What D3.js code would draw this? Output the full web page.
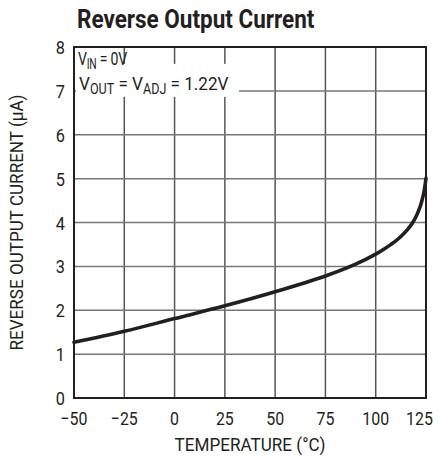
<!DOCTYPE html>
<html><head><meta charset="utf-8">
<script src="https://cdn.jsdelivr.net/npm/d3@7"></script>
<style>
html,body{margin:0;padding:0;background:#fff;}
text{font-family:"Roboto","Liberation Sans",sans-serif;fill:#231f20;}
</style></head>
<body><svg id="c" width="438" height="460"></svg>
<script>
const xTicks = [-50, -25, 0, 25, 50, 75, 100, 125];
const xTickLabels = ["\u221250", "\u221225", "0", "25", "50", "75", "100", "125"];
const yTicks = [0, 1, 2, 3, 4, 5, 6, 7, 8];
const temperature = [-50, -25, 0, 25, 50, 75, 90, 100, 105, 110, 112, 114, 116, 118, 120, 122, 123, 124, 125];
const current =     [1.27, 1.52, 1.81, 2.10, 2.42, 2.78, 3.05, 3.28, 3.42, 3.58, 3.66, 3.75, 3.85, 3.97, 4.13, 4.35, 4.50, 4.70, 5.01];

const svg = d3.select("#c");
const m = {l:74, r:12, t:47, b:62};
const W = 438, H = 460;
const x = d3.scaleLinear().domain([-50,125]).range([m.l, W-m.r]);
const y = d3.scaleLinear().domain([0,8]).range([H-m.b, m.t]);

// condensed text helper
function ctext(parent, px, py, sx, opts) {
  const t = parent.append("text")
    .attr("transform", `translate(${px},${py}) scale(${sx},1)`)
    .attr("font-size", opts.size || 19)
    .attr("text-anchor", opts.anchor || "start");
  if (opts.weight) t.attr("font-weight", opts.weight);
  if (opts.text != null) t.text(opts.text);
  return t;
}

// gridlines
const g = svg.append("g");
g.selectAll("line.v").data(xTicks.slice(1,-1)).enter().append("line")
  .attr("x1", d=>x(d)).attr("x2", d=>x(d)).attr("y1", y(0)).attr("y2", y(8))
  .attr("stroke", "#555").attr("stroke-width", 1.5);
g.selectAll("line.h").data(yTicks.slice(1,-1)).enter().append("line")
  .attr("x1", x(-50)).attr("x2", x(125)).attr("y1", d=>y(d)).attr("y2", d=>y(d))
  .attr("stroke", "#777").attr("stroke-width", 1.5);

// annotation box
const ann = svg.append("g");
ann.append("rect").attr("x", x(-50)+2).attr("y", y(7)-27).attr("width", 163).attr("height", 33).attr("fill", "#fff");

// frame
svg.append("rect").attr("x", x(-50)).attr("y", y(8)).attr("width", x(125)-x(-50)).attr("height", y(0)-y(8))
  .attr("fill", "none").attr("stroke", "#231f20").attr("stroke-width", 2);

// curve
const line = d3.line().x((d,i)=>x(temperature[i])).y(d=>y(d)).curve(d3.curveCatmullRom.alpha(0.5));
svg.append("path").attr("d", line(current)).attr("fill","none").attr("stroke","#231f20").attr("stroke-width",3.6).attr("stroke-linecap","round");

// tick labels
xTicks.forEach((d,i)=>{
  const last = i === xTicks.length-1;
  ctext(svg, last ? x(d)+7 : x(d), y(0)+27, 0.84, {size:19, anchor: last ? "end" : "middle", text:xTickLabels[i]});
});
yTicks.forEach(d=>{
  ctext(svg, x(-50)-9, y(d)+7, 0.86, {size:19, anchor:"end", text:String(d)});
});

// annotation text
const t1 = ctext(ann, x(-50)+4, y(8)+18, 0.74, {size:19}).attr("letter-spacing", -0.3);
t1.append("tspan").text("V");
t1.append("tspan").attr("dy",4).attr("font-size",14).text("IN");
t1.append("tspan").attr("dy",-4).text(" = 0V");
const t2 = ctext(ann, x(-50)+5, y(7)-1, 0.9, {size:19});
t2.append("tspan").text("V");
t2.append("tspan").attr("dy",4).attr("font-size",14).text("OUT");
t2.append("tspan").attr("dy",-4).text(" = V");
t2.append("tspan").attr("dy",4).attr("font-size",14).text("ADJ");
t2.append("tspan").attr("dy",-4).text(" = 1.22V");

// titles
ctext(svg, 77, 28, 0.9, {size:25, weight:"bold", text:"Reverse Output Current"});
ctext(svg, x(37.5), 451, 0.9, {size:19, anchor:"middle", text:"TEMPERATURE (\u00B0C)"});
svg.append("text").attr("transform", `translate(23,${(y(0)+y(8))/2}) rotate(-90) scale(0.9,1)`)
  .attr("text-anchor","middle").attr("font-size",19).text("REVERSE OUTPUT CURRENT (\u00B5A)");
</script></body></html>
